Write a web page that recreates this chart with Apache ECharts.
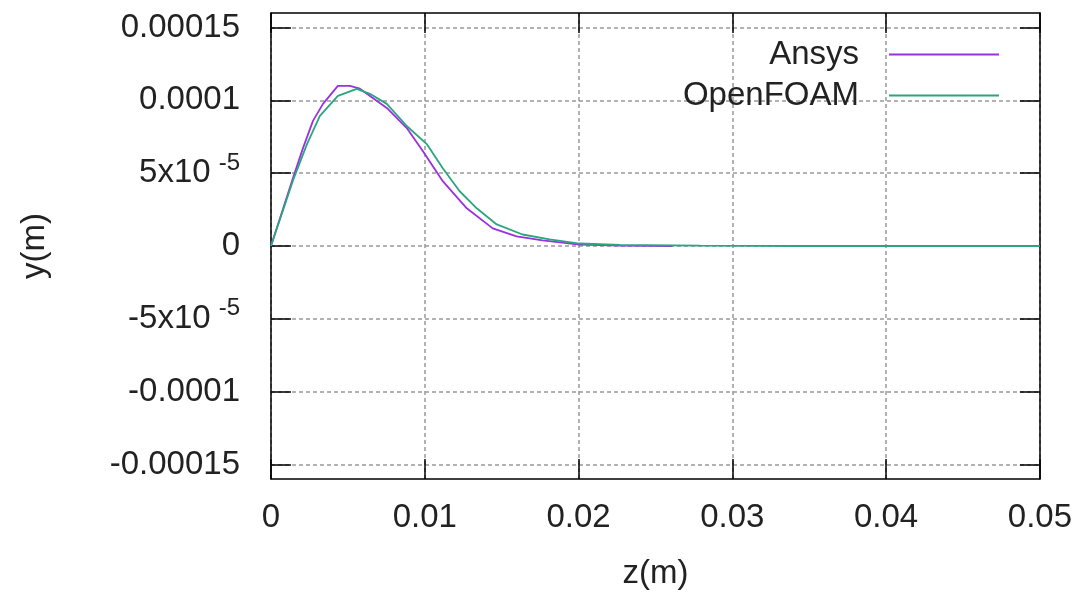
<!DOCTYPE html>
<html>
<head>
<meta charset="utf-8">
<script src="https://cdn.jsdelivr.net/npm/echarts@6/dist/echarts.min.js"></script>
<style>
  html, body { margin: 0; padding: 0; background: #fff; }
  #main { width: 1075px; height: 601px; }
</style>
</head>
<body>
<div id="main"></div>
<script>
// Ansys curve
var zAnsys = [0, 0.00143, 0.00208, 0.00273, 0.00338, 0.00435, 0.00513, 0.00578, 0.00662, 0.00753,
  0.00883, 0.00987, 0.01117, 0.01273, 0.01442, 0.01597, 0.01766, 0.02006, 0.02266, 0.0261];
var yAnsys = [0, 4.66e-5, 6.72e-5, 8.59e-5, 9.76e-5, 1.10e-4, 1.10e-4, 1.08e-4, 1.017e-4, 9.48e-5,
  8.10e-5, 6.52e-5, 4.45e-5, 2.59e-5, 1.21e-5, 6.6e-6, 3.8e-6, 1.0e-6, 3e-7, 0];
// OpenFOAM curve
var zFoam = [0, 0.00143, 0.00234, 0.00318, 0.00435, 0.00558, 0.00643, 0.00753, 0.00883, 0.01013,
  0.01117, 0.01227, 0.01338, 0.01468, 0.01636, 0.01812, 0.02006, 0.0227, 0.0279, 0.0344, 0.05];
var yFoam = [0, 4.5e-5, 7.0e-5, 8.93e-5, 1.031e-4, 1.079e-4, 1.045e-4, 9.76e-5, 8.24e-5, 7.0e-5,
  5.34e-5, 3.76e-5, 2.59e-5, 1.48e-5, 7.9e-6, 4.5e-6, 1.7e-6, 7e-7, 3e-7, 0, 0];
// axes
var zTicks = [0, 0.01, 0.02, 0.03, 0.04, 0.05];
var yTicks = [-0.00015, -0.0001, -0.00005, 0, 0.00005, 0.0001, 0.00015];
var yTickText = ['-0.00015', '-0.0001', '-5x10{sup|-5}', '0', '5x10{sup|-5}', '0.0001', '0.00015'];

var myChart = echarts.init(document.getElementById('main'));

function pairs(xs, ys) {
  return xs.map(function (x, i) { return [x, ys[i]]; });
}

function yLabel(v) {
  for (var i = 0; i < yTicks.length; i++) {
    if (Math.abs(v - yTicks[i]) < 1e-9) return yTickText[i];
  }
  return '';
}

var font = 'Liberation Sans, Arial, sans-serif';
var border = { show: true, onZero: false, lineStyle: { color: '#000', width: 1.5 } };
var ticks = { show: true, inside: true, length: 20, lineStyle: { color: '#000', width: 1.5 } };
var grid = { show: true, lineStyle: { color: '#999', width: 1.5, type: [4, 3] } };
var legendText = { fontSize: 33, color: '#222', fontFamily: font, padding: [0, 25, 0, 0] };

var option = {
  animation: false,
  grid: { left: 271, right: 34, top: 13, bottom: 122 },
  legend: [
    { data: ['Ansys'], right: 76, top: 38, padding: 0, align: 'right', icon: 'rect',
      itemWidth: 110, itemHeight: 2, textStyle: legendText },
    { data: ['OpenFOAM'], right: 76, top: 79, padding: 0, align: 'right', icon: 'rect',
      itemWidth: 110, itemHeight: 2, textStyle: legendText }
  ],
  xAxis: [{
    type: 'value', min: 0, max: 0.05, interval: 0.01,
    name: 'z(m)', nameLocation: 'middle', nameGap: 78,
    nameTextStyle: { fontSize: 33, color: '#222', fontFamily: font },
    axisLine: border, axisTick: ticks, splitLine: grid,
    axisLabel: { fontSize: 33, color: '#222', fontFamily: font, margin: 22,
      formatter: function (v) { return String(+v.toFixed(2)); } }
  }, {
    type: 'value', min: 0, max: 0.05, interval: 0.01, position: 'top',
    axisLine: border, axisTick: ticks, splitLine: { show: false }, axisLabel: { show: false }
  }],
  yAxis: [{
    type: 'value', min: -0.00016, max: 0.00016,
    name: 'y(m)', nameLocation: 'middle', nameGap: 220, nameRotate: 90,
    nameTextStyle: { fontSize: 33, color: '#222', fontFamily: font },
    axisLine: border,
    axisTick: Object.assign({ customValues: yTicks }, ticks),
    splitLine: grid,
    axisLabel: { customValues: yTicks, fontSize: 33, color: '#222', fontFamily: font, margin: 31,
      formatter: yLabel,
      rich: { sup: { fontSize: 24, color: '#222', fontFamily: font, padding: [0, 0, 20, 8] } } }
  }, {
    type: 'value', min: -0.00016, max: 0.00016, position: 'right',
    axisLine: border,
    axisTick: Object.assign({ customValues: yTicks }, ticks),
    splitLine: { show: false }, axisLabel: { show: false, customValues: yTicks }
  }],
  series: [{
    name: 'Ansys', type: 'line', showSymbol: false, symbol: 'none',
    lineStyle: { color: '#9b30e0', width: 1.8 }, itemStyle: { color: '#9b30e0' },
    data: pairs(zAnsys, yAnsys)
  }, {
    name: 'OpenFOAM', type: 'line', showSymbol: false, symbol: 'none',
    lineStyle: { color: '#2aa57f', width: 1.8 }, itemStyle: { color: '#2aa57f' },
    data: pairs(zFoam, yFoam)
  }]
};

myChart.setOption(option);
</script>
</body>
</html>
